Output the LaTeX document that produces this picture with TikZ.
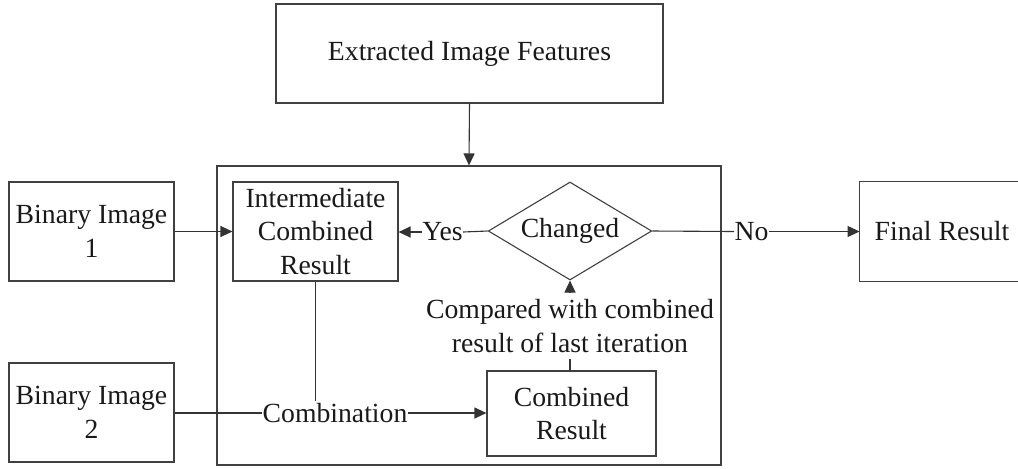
\documentclass[tikz,border=0pt]{standalone}
\usepackage{fontspec}
\setmainfont{Liberation Serif}
\usetikzlibrary{shapes.geometric,arrows.meta,calc}
\begin{document}
\begin{tikzpicture}[x=0.5pt,y=-0.5pt,
  every node/.style={font=\fontsize{13.85}{16.75}\selectfont, text=black!90},
  frame/.style={draw=black!75, line width=0.55pt},
  box/.style={frame, align=center, inner sep=0pt},
  lbl/.style={inner xsep=0pt, inner ysep=1pt, align=center},
  link/.style={draw=black!80, line width=0.55pt},
  arr/.style={link, -{Triangle[length=6pt,width=5.5pt]}}]
  \useasboundingbox (0,0) rectangle (1018,468);
  \clip (0,0) rectangle (1018,468);

  % iteration frame
  \node[box, minimum width=252pt, minimum height=149.5pt] (loop) at (469,315.5) {};

  % blocks
  \node[box, minimum width=193.5pt, minimum height=49.5pt] (feat) at (469.5,53.5) {Extracted Image Features};
  \node[box, minimum width=82.5pt, minimum height=49.5pt] (bin1) at (91.5,231.5) {Binary Image\\1};
  \node[box, minimum width=82.5pt, minimum height=49.5pt] (bin2) at (91.5,412.5) {Binary Image\\2};
  \node[box, minimum width=82.5pt, minimum height=49.5pt] (icr) at (315.5,231.5) {Intermediate\\Combined\\Result};
  \node[box, minimum width=84.5pt, minimum height=42.5pt] (cr) at (571.5,413.5) {Combined\\Result};
  \node[box, shape=diamond, aspect=1.67, minimum width=81.75pt, minimum height=49pt] (chg) at (570,231) {Changed};
  \node[inner sep=0pt, minimum width=82pt, minimum height=49.5pt] (fin) at (942,231.5) {Final Result};
  % the final block runs past the right border
  \draw[frame] ($(fin.north east)+(40,0)$) -- (fin.north west) -- (fin.south west) -- ($(fin.south east)+(40,0)$);

  % connector labels
  \node[lbl] (comb) at (335,413) {Combination};
  \node[lbl] (yes) at (442.5,232) {Yes};
  \node[lbl] (no) at (751.5,231.5) {No};
  \node[lbl, inner ysep=3pt] (cmp) at (570,326) {Compared with combined\\result of last iteration};

  % connectors
  \draw[arr] (feat.south) -- (loop.north);
  \draw[arr] (bin1.east) -- (icr.west);
  \draw[link] (icr.south) -- (icr.south |- comb.north);
  \draw[link] (bin2.east |- comb.west) -- (comb.west);
  \draw[arr] (comb.east) -- (cr.west |- comb.east);
  \draw[link] (cr.north -| cmp.south) -- (cmp.south);
  \draw[arr] (cmp.north) -- (chg.south);
  \draw[link] (chg.west) -- (yes.east);
  \draw[arr] (yes.west) -- (icr.east |- yes.west);
  \draw[link] (chg.east) -- (no.west);
  \draw[arr] (no.east) -- (fin.west |- no.east);
\end{tikzpicture}
\end{document}
